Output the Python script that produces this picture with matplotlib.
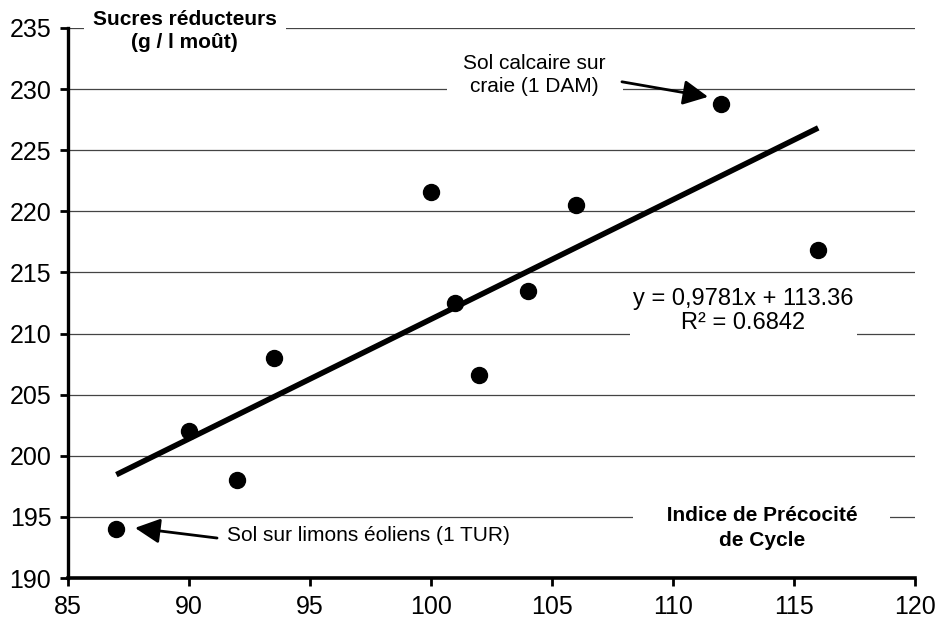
import numpy as np
import matplotlib
matplotlib.use("Agg")
import matplotlib.pyplot as plt

plt.rcParams['font.family'] = ['Liberation Sans', 'DejaVu Sans']

# indice de precocite de cycle vs sucres reducteurs
ipc = [87, 90, 92, 93.5, 100, 101, 102, 104, 106, 112, 116]
sucres = [194, 202, 198, 208, 221.6, 212.5, 206.6, 213.5, 220.5, 228.8, 216.8]

slope = 0.9781
intercept = 113.36
eq_text = "y = 0,9781x + 113.36\nR\u00b2 = 0.6842"

xticks = [85, 90, 95, 100, 105, 110, 115, 120]
yticks = [190, 195, 200, 205, 210, 215, 220, 225, 230, 235]

fig = plt.figure(figsize=(9.36, 6.28), dpi=100)
ax = fig.add_axes([0.0726, 0.0796, 0.905, 0.876])

ax.set_xlim(85, 120)
ax.set_ylim(190, 235)
ax.set_xticks(xticks)
ax.set_yticks(yticks)

ax.set_axisbelow(True)
ax.yaxis.grid(True, color='#444444', lw=0.9)

for s in ['top', 'right']:
    ax.spines[s].set_visible(False)
ax.spines['left'].set_linewidth(2.4)
ax.spines['bottom'].set_linewidth(2.6)
ax.tick_params(axis='both', direction='out', length=6, width=2, labelsize=18, pad=6)

# droite de regression
xs = np.array([min(ipc), max(ipc)])
ax.plot(xs, slope * xs + intercept, color='black', lw=4, solid_capstyle='butt', zorder=3)
ax.plot(ipc, sucres, 'o', color='black', ms=11.5, zorder=4)

box = dict(fc='white', ec='none')

ax.text(0.138, 0.9945, "Sucres réducteurs\n(g / l moût)", transform=ax.transAxes,
        ha='center', va='center', fontsize=15, fontweight='bold', linespacing=1.25,
        bbox=dict(box, boxstyle='square,pad=0.45'))
ax.text(0.819, 0.091, "     Indice de Précocité     \nde Cycle", transform=ax.transAxes,
        ha='center', va='center', fontsize=15, fontweight='bold', linespacing=1.4,
        bbox=dict(box, boxstyle='square,pad=0.2'))
ax.text(0.7975, 0.4855, eq_text, transform=ax.transAxes,
        ha='center', va='center', fontsize=17, linespacing=1.15,
        bbox=dict(box, boxstyle='square,pad=0.15'))
ax.text(0.551, 0.9145, "Sol calcaire sur\ncraie (1 DAM)", transform=ax.transAxes,
        ha='center', va='center', fontsize=15, linespacing=1.25,
        bbox=dict(box, boxstyle='square,pad=0.8'))
ax.text(0.1877, 0.078, "Sol sur limons éoliens (1 TUR)", transform=ax.transAxes,
        ha='left', va='center', fontsize=15,
        bbox=dict(box, boxstyle='square,pad=0.2'))

arrow = dict(arrowstyle='-|>', mutation_scale=38, lw=2, color='black',
             shrinkA=0, shrinkB=0)
ax.annotate('', xy=(111.45, 229.36), xytext=(107.89, 230.59), arrowprops=arrow, zorder=5)
ax.annotate('', xy=(87.77, 194.1), xytext=(91.16, 193.27), arrowprops=arrow, zorder=5)

fig.savefig("out.png", dpi=100)
